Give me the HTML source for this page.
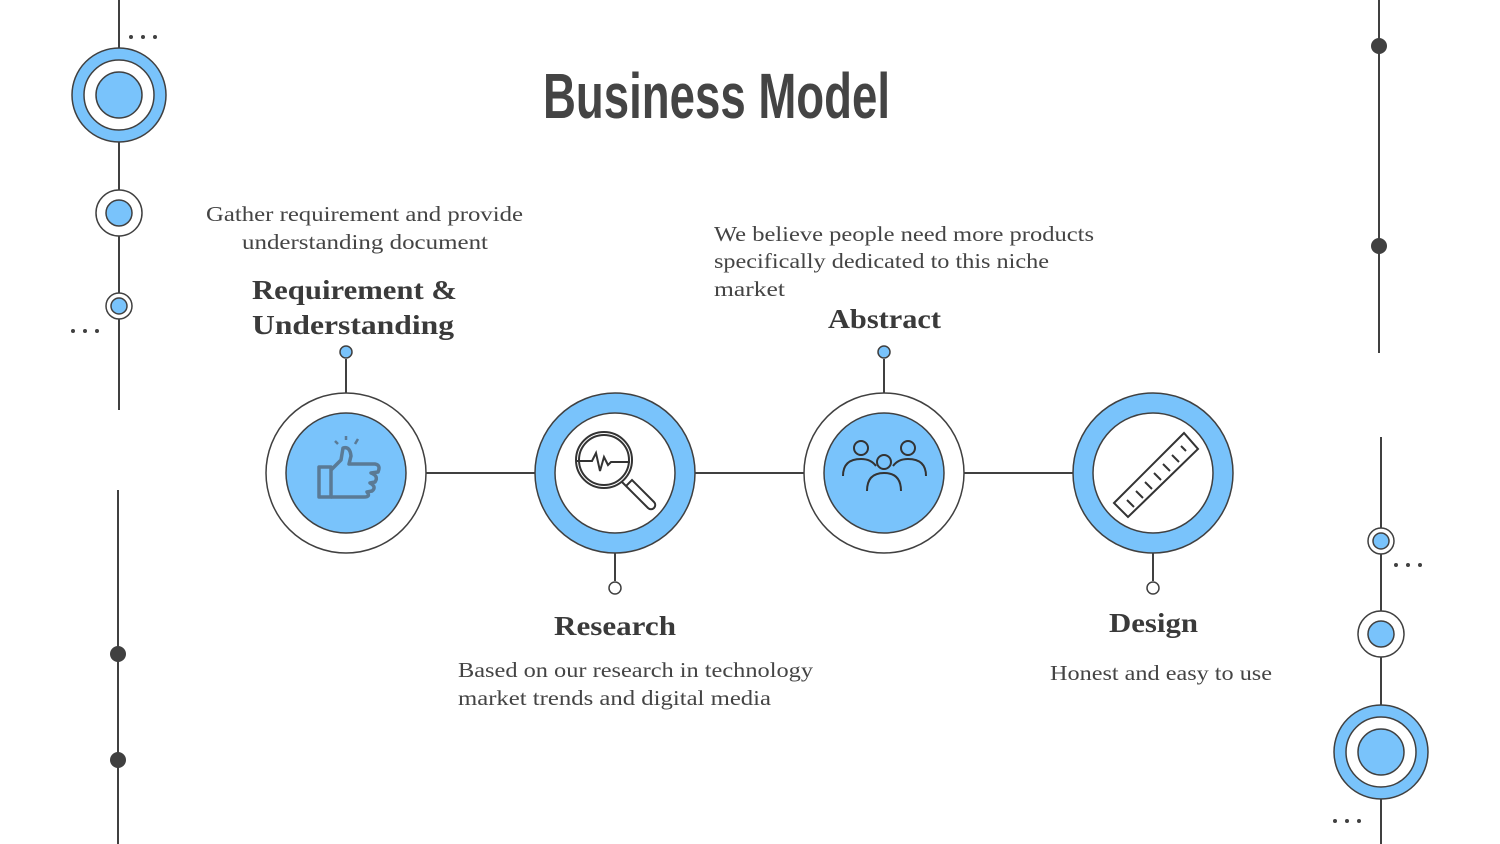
<!DOCTYPE html>
<html><head><style>
html,body{margin:0;padding:0;background:#fff}
svg{display:block}
.t{font-family:"Liberation Serif",serif;fill:#444;font-size:21px}
.h{font-family:"Liberation Serif",serif;fill:#3a3a3a;font-size:27px;font-weight:bold}
</style></head><body>
<svg width="1500" height="844" viewBox="0 0 1500 844" xmlns="http://www.w3.org/2000/svg">
<g stroke="#404040" stroke-width="2" fill="none">
<line x1="119" y1="0" x2="119" y2="410"/>
<line x1="118" y1="490" x2="118" y2="844"/>
<line x1="1379" y1="0" x2="1379" y2="353"/>
<line x1="1381" y1="437" x2="1381" y2="844"/>
<line x1="426" y1="473" x2="535" y2="473"/>
<line x1="695" y1="473" x2="804" y2="473"/>
<line x1="964" y1="473" x2="1073" y2="473"/>
<line x1="346" y1="359" x2="346" y2="393"/>
<line x1="884" y1="359" x2="884" y2="393"/>
<line x1="615" y1="553" x2="615" y2="581"/>
<line x1="1153" y1="553" x2="1153" y2="581"/>
</g>
<g stroke="#404040" stroke-width="1.5">
<circle cx="119" cy="95" r="47" fill="#79c3fb"/><circle cx="119" cy="95" r="35" fill="#fff"/><circle cx="119" cy="95" r="23" fill="#79c3fb"/>
<circle cx="119" cy="213" r="23" fill="#fff"/><circle cx="119" cy="213" r="13" fill="#79c3fb"/>
<circle cx="119" cy="306" r="13" fill="#fff"/><circle cx="119" cy="306" r="8" fill="#79c3fb"/>
<circle cx="1381" cy="541" r="13" fill="#fff"/><circle cx="1381" cy="541" r="8" fill="#79c3fb"/>
<circle cx="1381" cy="634" r="23" fill="#fff"/><circle cx="1381" cy="634" r="13" fill="#79c3fb"/>
<circle cx="1381" cy="752" r="47" fill="#79c3fb"/><circle cx="1381" cy="752" r="35" fill="#fff"/><circle cx="1381" cy="752" r="23" fill="#79c3fb"/>
<circle cx="346" cy="473" r="80" fill="#fff"/><circle cx="346" cy="473" r="60" fill="#79c3fb"/>
<circle cx="615" cy="473" r="80" fill="#79c3fb"/><circle cx="615" cy="473" r="60" fill="#fff"/>
<circle cx="884" cy="473" r="80" fill="#fff"/><circle cx="884" cy="473" r="60" fill="#79c3fb"/>
<circle cx="1153" cy="473" r="80" fill="#79c3fb"/><circle cx="1153" cy="473" r="60" fill="#fff"/>
<circle cx="346" cy="352" r="6" fill="#79c3fb"/>
<circle cx="884" cy="352" r="6" fill="#79c3fb"/>
<circle cx="615" cy="588" r="6" fill="#fff"/>
<circle cx="1153" cy="588" r="6" fill="#fff"/>
</g>
<g fill="#404040">
<circle cx="1379" cy="46" r="8"/><circle cx="1379" cy="246" r="8"/>
<circle cx="118" cy="654" r="8"/><circle cx="118" cy="760" r="8"/>
<circle cx="131" cy="37" r="2"/><circle cx="143" cy="37" r="2"/><circle cx="155" cy="37" r="2"/>
<circle cx="73" cy="331" r="2"/><circle cx="85" cy="331" r="2"/><circle cx="97" cy="331" r="2"/>
<circle cx="1396" cy="565" r="2"/><circle cx="1408" cy="565" r="2"/><circle cx="1420" cy="565" r="2"/>
<circle cx="1335" cy="821" r="2"/><circle cx="1347" cy="821" r="2"/><circle cx="1359" cy="821" r="2"/>
</g>
<g stroke="#5a7a95" stroke-width="3.5" fill="none" stroke-linejoin="round">
<rect x="319" y="467" width="12" height="30"/>
<path d="M331 470 L341 460 L343 448 Q350 446 351 456 L349 464 L375 464 Q381 465 378 472 L371 473 Q379 476 375 482 L370 483 Q377 487 372 491 L367 492 Q371 497 364 497 L331 497"/>
<path d="M346 440 v-4 M355 444 l3 -5 M338 444 l-3 -3" stroke-width="2.5"/>
</g>
<g stroke="#333" stroke-width="2" fill="none">
<circle cx="604" cy="460" r="28"/><circle cx="604" cy="460" r="25"/>
<path d="M577 461 h15 l4 -8 l4 18 l4 -14 l4 8 l3 -3 h19"/>
<path d="M622 482 l6 6 M626 486 l22 22 a4 4 0 0 0 6 -6 l-22 -22 z"/>
</g>
<g stroke="#333" stroke-width="2" fill="none">
<circle cx="861" cy="448" r="7"/><circle cx="908" cy="448" r="7"/><circle cx="884" cy="462" r="7"/>
<path d="M843 476 q0 -17 18 -17 q10 0 15 7"/><path d="M926 476 q0 -17 -18 -17 q-10 0 -15 7"/>
<path d="M867 491 q0 -18 17 -18 q17 0 17 18"/>
</g>
<g stroke="#333" stroke-width="2" fill="none">
<path d="M1114 503 L1184 433 L1198 449 L1128 517 Z"/>
<path d="M1127 500 l7 7 M1136 491 l7 7 M1145 482 l7 7 M1154 473 l7 7 M1163 464 l7 7 M1172 455 l7 7 M1181 446 l5 5"/>
</g>
<text x="543" y="118" font-family="'Liberation Sans',sans-serif" font-size="64" font-weight="bold" fill="#444" textLength="347" lengthAdjust="spacingAndGlyphs">Business Model</text>
<text class="t" x="206" y="221" textLength="317" lengthAdjust="spacingAndGlyphs">Gather requirement and provide</text>
<text class="t" x="242" y="249" textLength="246" lengthAdjust="spacingAndGlyphs">understanding document</text>
<text class="h" x="252" y="299" textLength="205" lengthAdjust="spacingAndGlyphs">Requirement &amp;</text>
<text class="h" x="252" y="334" textLength="202" lengthAdjust="spacingAndGlyphs">Understanding</text>
<text class="t" x="714" y="241" textLength="380" lengthAdjust="spacingAndGlyphs">We believe people need more products</text>
<text class="t" x="714" y="268" textLength="335" lengthAdjust="spacingAndGlyphs">specifically dedicated to this niche</text>
<text class="t" x="714" y="296" textLength="71" lengthAdjust="spacingAndGlyphs">market</text>
<text class="h" x="828" y="328" textLength="113" lengthAdjust="spacingAndGlyphs">Abstract</text>
<text class="h" x="554" y="635" textLength="122" lengthAdjust="spacingAndGlyphs">Research</text>
<text class="t" x="458" y="677" textLength="355" lengthAdjust="spacingAndGlyphs">Based on our research in technology</text>
<text class="t" x="458" y="705" textLength="313" lengthAdjust="spacingAndGlyphs">market trends and digital media</text>
<text class="h" x="1109" y="632" textLength="89" lengthAdjust="spacingAndGlyphs">Design</text>
<text class="t" x="1050" y="680" textLength="222" lengthAdjust="spacingAndGlyphs">Honest and easy to use</text>
</svg>
</body></html>
